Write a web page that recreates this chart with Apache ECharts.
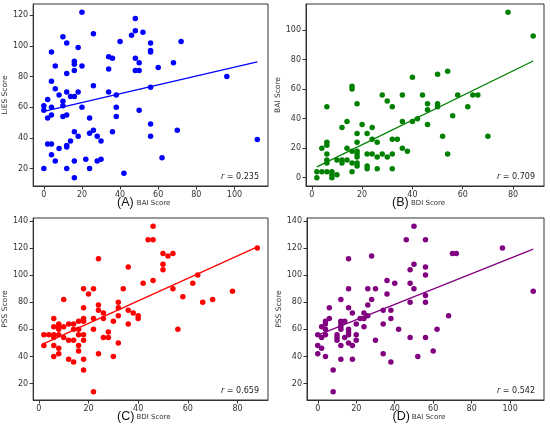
<!DOCTYPE html>
<html>
<head>
<meta charset="utf-8">
<script src="https://cdn.jsdelivr.net/npm/echarts@6/dist/echarts.min.js"></script>
<style>
  html, body { margin: 0; padding: 0; background: #fff; }
  #chart { width: 550px; height: 429px; }
</style>
</head>
<body>
<div id="chart"></div>
<script>
// (A) BAI vs LiES
const baiLies = [
  [20,122],[48,118],[48,110],[46,107],[52,109],[10,106],[26,108],[40,103],[72,103],[12,102],
  [56,102],[18,99],[4,96],[56,97],[56,96],[34,93],[36,92],[48,92],[16,90],[16,88],
  [6,87],[20,87],[50,89],[68,89],[60,86],[34,85],[16,84],[48,84],[50,84],[12,82],
  [96,80],[4,77],[26,74],[56,73],[6,72],[12,70],[18,70],[34,70],[8,68],[38,68],
  [14,67],[16,67],[2,65],[10,64],[0,61],[10,61],[4,60],[20,60],[38,60],[0,58],
  [50,58],[4,55],[12,55],[10,54],[38,54],[2,53],[24,53],[56,49],[26,45],[70,45],
  [16,44],[36,44],[24,43],[18,41],[28,41],[56,41],[112,39],[14,38],[30,38],[2,36],
  [4,36],[12,35],[12,34],[8,33],[4,29],[62,27],[22,26],[30,26],[6,25],[16,25],
  [28,25],[0,20],[12,20],[24,20],[42,17],[16,14]
];
// (B) BDI vs BAI
const bdiBai = [
  [78,112],[88,96],[54,72],[50,70],[40,68],[16,62],[16,60],[28,56],[36,56],[44,56],
  [58,56],[64,56],[66,56],[30,52],[18,50],[46,50],[50,50],[50,48],[6,48],[32,48],
  [62,48],[46,46],[56,42],[42,40],[14,38],[36,38],[40,38],[20,36],[46,36],[12,34],
  [24,34],[18,30],[22,30],[52,28],[70,28],[24,26],[32,26],[34,26],[6,24],[18,24],
  [26,24],[6,22],[4,20],[14,20],[36,20],[16,18],[18,18],[38,18],[6,16],[18,16],
  [22,16],[24,16],[28,16],[32,16],[54,16],[18,14],[26,14],[30,14],[6,12],[10,12],
  [12,12],[14,12],[6,10],[12,10],[16,10],[18,10],[18,8],[22,8],[22,6],[26,6],
  [32,6],[2,4],[4,4],[6,4],[8,4],[16,4],[8,2],[10,2],[2,0],[8,0]
];
// (C) BDI vs PSS
const bdiPss = [
  [46,136],[44,126],[46,126],[88,120],[50,116],[54,116],[52,114],[24,112],[50,108],[36,106],
  [50,104],[64,100],[46,96],[42,94],[62,94],[18,90],[22,90],[34,90],[54,90],[78,88],
  [20,86],[58,84],[10,82],[70,82],[32,80],[66,80],[24,78],[18,76],[32,76],[24,74],
  [36,74],[26,72],[38,72],[40,70],[32,70],[40,68],[18,68],[22,68],[26,68],[6,68],
  [18,66],[16,66],[30,66],[8,64],[12,64],[14,64],[36,64],[6,62],[8,62],[10,62],
  [8,60],[14,60],[16,60],[22,60],[56,60],[28,58],[2,56],[4,56],[6,56],[8,56],
  [16,56],[18,56],[6,54],[10,54],[26,54],[28,54],[12,52],[14,52],[18,52],[32,50],
  [2,48],[6,48],[16,48],[8,46],[16,44],[8,42],[24,42],[6,40],[30,40],[12,38],
  [18,38],[14,36],[18,30],[22,14]
];
// (D) BAI vs PSS
const baiPss = [
  [50,136],[46,126],[56,126],[96,120],[70,116],[72,116],[28,114],[16,112],[50,108],[56,106],
  [48,104],[56,100],[36,96],[40,94],[48,94],[16,90],[26,90],[30,90],[50,90],[112,88],
  [36,86],[56,85],[12,82],[28,82],[48,80],[56,80],[26,78],[6,76],[16,76],[18,72],
  [24,72],[34,74],[38,74],[26,70],[68,70],[6,68],[22,68],[24,68],[38,68],[4,66],
  [12,66],[14,66],[4,64],[12,64],[20,64],[34,64],[2,62],[12,62],[24,62],[4,60],
  [12,60],[16,60],[42,60],[62,60],[16,58],[0,56],[4,56],[16,56],[20,56],[10,56],
  [2,54],[10,54],[14,54],[48,54],[56,54],[10,52],[20,52],[30,52],[16,50],[0,48],
  [12,48],[18,48],[2,46],[60,44],[0,42],[34,42],[4,40],[52,40],[12,38],[18,38],
  [38,36],[8,30],[8,14]
];

// regression fits [intercept, slope]
const fitA = [57.3, 0.288];
const fitB = [5.7, 0.833];
const fitC = [47.8, 0.829];
const fitD = [55.7, 0.567];

const rLabels = ['0.235', '0.709', '0.659', '0.542'];
const panelTags = ['(A)', '(B)', '(C)', '(D)'];
const xNames = ['BAI Score', 'BDI Score', 'BDI Score', 'BAI Score'];
const yNames = ['LiES Score', 'BAI Score', 'PSS Score', 'PSS Score'];

const ticksBAI = [0, 20, 40, 60, 80, 100];
const ticksBDI = [0, 20, 40, 60, 80];
const ticksLies = [20, 40, 60, 80, 100, 120];
const ticksBAIy = [0, 20, 40, 60, 80, 100];
const ticksPSS = [20, 40, 60, 80, 100, 120, 140];

const panels = [
  { data: baiLies, fit: fitA, color: '#0000ff', xt: ticksBAI, yt: ticksLies },
  { data: bdiBai, fit: fitB, color: '#008000', xt: ticksBDI, yt: ticksBAIy },
  { data: bdiPss, fit: fitC, color: '#ff0000', xt: ticksBDI, yt: ticksPSS },
  { data: baiPss, fit: fitD, color: '#800080', xt: ticksBAI, yt: ticksPSS }
];

const boxes = [
  { left: 32, top: 4, width: 236, height: 182 },
  { left: 306, top: 4, width: 238, height: 182 },
  { left: 32, top: 218, width: 236, height: 182 },
  { left: 307, top: 218, width: 237, height: 182 }
];

const font = 'DejaVu Sans';
const ink = '#333';

// matplotlib-like 5% margins
function padRange(vals) {
  const lo = Math.min(...vals), hi = Math.max(...vals), m = (hi - lo) * 0.05;
  return [lo - m, hi + m];
}

const chart = echarts.init(document.getElementById('chart'), null, { renderer: 'canvas' });

const grid = [], xAxis = [], yAxis = [], series = [], title = [];

panels.forEach((p, i) => {
  const b = boxes[i];
  grid.push({ left: b.left, top: b.top, width: b.width, height: b.height,
    show: true, borderColor: '#333', borderWidth: 1, containLabel: false });

  const xr = padRange(p.data.map(d => d[0]));
  const yr = padRange(p.data.map(d => d[1]));

  xAxis.push({
    type: 'value', gridIndex: i, min: xr[0], max: xr[1],
    splitLine: { show: false },
    axisLine: { show: true, onZero: false, lineStyle: { color: '#333' } },
    axisTick: { show: true, length: 3.5, customValues: p.xt, lineStyle: { color: '#333' } },
    axisLabel: { customValues: p.xt, fontSize: 8, color: ink, fontFamily: font, margin: 5 },
    name: xNames[i], nameLocation: 'middle', nameGap: 12,
    nameTextStyle: { fontSize: 7, color: ink, fontFamily: font, padding: [0, 0, 0, 6] }
  });
  yAxis.push({
    type: 'value', gridIndex: i, min: yr[0], max: yr[1],
    splitLine: { show: false },
    axisLine: { show: true, onZero: false, lineStyle: { color: '#333' } },
    axisTick: { show: true, length: 3.5, customValues: p.yt, lineStyle: { color: '#333' } },
    axisLabel: { customValues: p.yt, fontSize: 8, color: ink, fontFamily: font, margin: 5 },
    name: yNames[i], nameLocation: 'middle', nameGap: 20,
    nameTextStyle: { fontSize: 7.5, color: ink, fontFamily: font }
  });

  series.push({
    type: 'scatter', xAxisIndex: i, yAxisIndex: i, data: p.data,
    symbolSize: 5.5, itemStyle: { color: p.color, opacity: 1 }, silent: true
  });

  const xs = p.data.map(d => d[0]);
  const x0 = Math.min(...xs), x1 = Math.max(...xs);
  series.push({
    type: 'line', xAxisIndex: i, yAxisIndex: i, showSymbol: false, silent: true,
    data: [[x0, p.fit[0] + p.fit[1] * x0], [x1, p.fit[0] + p.fit[1] * x1]],
    lineStyle: { color: p.color, width: 1.3 }
  });

  // r label inside lower right
  title.push({
    text: '{i|r} = ' + rLabels[i],
    right: 550 - (b.left + b.width) + 4, top: b.top + b.height - 18,
    textStyle: { fontSize: 8, fontWeight: 'normal', color: '#222', fontFamily: font,
      rich: { i: { fontStyle: 'italic', fontSize: 8, color: '#222', fontFamily: font } } }
  });
  // panel tag
  title.push({
    text: panelTags[i], padding: 0,
    left: b.left + b.width / 2 - 33, top: b.top + b.height + 10,
    textStyle: { fontSize: 12.5, fontWeight: 'normal', color: '#111',
      fontFamily: 'Liberation Sans Narrow, Liberation Sans' }
  });
});

chart.setOption({
  animation: false,
  backgroundColor: '#fff',
  title, grid, xAxis, yAxis, series
});
</script>
</body>
</html>
